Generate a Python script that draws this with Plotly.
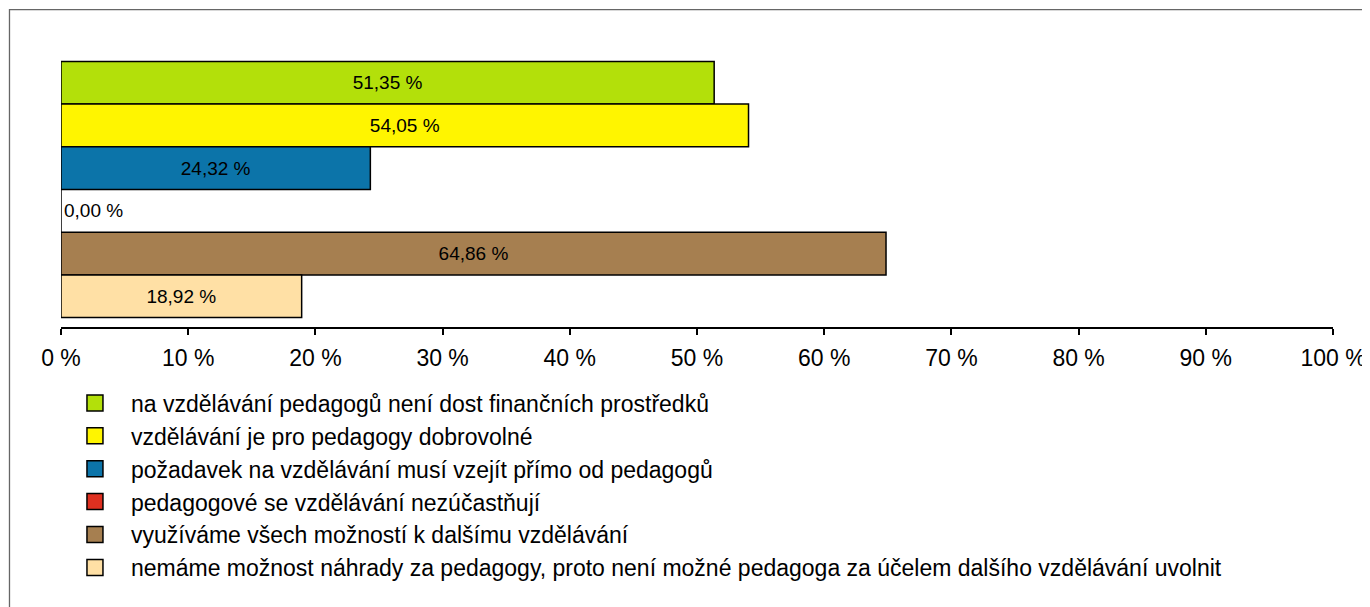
import plotly.graph_objects as go

categories = [
    "na vzdělávání pedagogů není dost finančních prostředků",
    "vzdělávání je pro pedagogy dobrovolné",
    "požadavek na vzdělávání musí vzejít přímo od pedagogů",
    "pedagogové se vzdělávání nezúčastňují",
    "využíváme všech možností k dalšímu vzdělávání",
    "nemáme možnost náhrady za pedagogy, proto není možné pedagoga za účelem dalšího vzdělávání uvolnit",
]
values = [51.35, 54.05, 24.32, 0.00, 64.86, 18.92]
colors = ["#B3E00A", "#FFF500", "#0C74A9", "#DF3020", "#A67F50", "#FFE0A5"]
tick_values = list(range(0, 101, 10))
tick_labels = [f"{v} %" for v in tick_values]

FONT = "Liberation Sans, Arial, sans-serif"

fig = go.Figure()

for cat, val, col in zip(categories, values, colors):
    fig.add_trace(go.Bar(
        y=[cat], x=[val], orientation="h", width=1,
        marker=dict(color=col, line=dict(color="black", width=1.5)),
        texttemplate="%{x:.2f} %",
        textposition="outside" if val == 0 else "inside",
        insidetextanchor="middle",
        textangle=0,
        textfont=dict(color="black", size=19, family=FONT),
        cliponaxis=False,
        showlegend=False,
        hoverinfo="x+y",
    ))

# legend entries (bigger square swatches than the bar legend gives)
for cat, col in zip(categories, colors):
    fig.add_trace(go.Scatter(
        x=[None], y=[None], mode="markers", name=cat,
        marker=dict(symbol="square", size=16, color=col,
                    line=dict(color="black", width=1.5)),
        legendgroup=cat,
    ))

fig.update_layout(
    width=1370, height=607,
    barmode="overlay",
    separators=", ",
    plot_bgcolor="white",
    paper_bgcolor="white",
    margin=dict(l=53, r=45, t=44, b=288),
    font=dict(family=FONT, color="black"),
    xaxis=dict(
        range=[0, 100], tickvals=tick_values, ticktext=tick_labels,
        showgrid=False, zeroline=False,
        showline=True, linecolor="black", linewidth=1.5,
        ticks="outside", ticklen=6, tickwidth=1.5, tickcolor="black",
        ticklabelstandoff=4,
        tickfont=dict(size=23),
    ),
    yaxis=dict(
        categoryorder="array", categoryarray=categories,
        range=[5.72, -0.72],
        showticklabels=False, showgrid=False, zeroline=False, showline=False,
    ),
    legend=dict(
        x=-0.0016, xanchor="left", y=-0.198, yanchor="top",
        font=dict(size=23), itemwidth=62, tracegroupgap=0,
        itemsizing="trace", bgcolor="rgba(0,0,0,0)",
    ),
    shapes=[dict(
        type="rect", xref="paper", yref="paper",
        x0=-0.0405, x1=1.2, y0=-2.0, y1=1.154,
        line=dict(color="#666666", width=1.3),
        fillcolor="rgba(0,0,0,0)", layer="below",
    )],
)

fig.write_html("out.html")
